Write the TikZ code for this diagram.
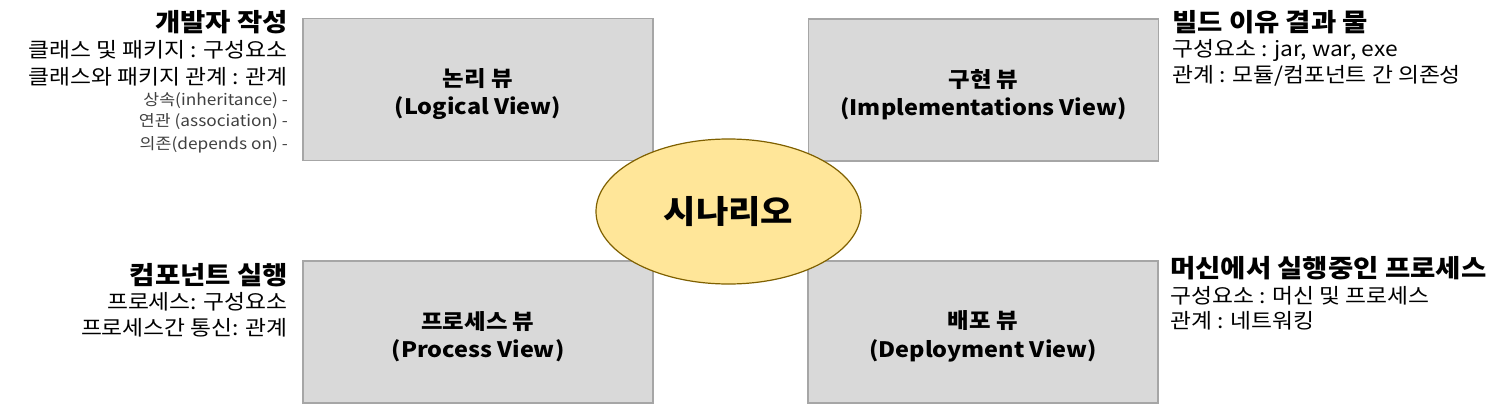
\documentclass[tikz,border=0pt]{standalone}
\usepackage{fontspec}
\setmainfont{Noto Sans CJK KR}[FakeStretch=1.1]
\usetikzlibrary{positioning, shapes.geometric}
\definecolor{boxfill}{HTML}{D9D9D9}
\definecolor{boxline}{HTML}{A6A6A6}
\definecolor{scenfill}{HTML}{FFE699}
\definecolor{scenline}{HTML}{7F6000}
\definecolor{subtext}{HTML}{404040}
\newcommand{\viewstrut}{\rule{0pt}{27pt}}

\tikzset{
	viewbox/.style={draw=boxline, fill=boxfill, line width=1.2pt, minimum width=350pt, minimum height=142pt, align=center, font=\fontsize{21.3}{28.5}\selectfont\bfseries},
	scenario/.style={ellipse, draw=scenline, fill=scenfill, line width=1.2pt, minimum width=265pt, minimum height=145pt, inner sep=0pt, font=\fontsize{32}{36}\selectfont\bfseries},
	headline/.style={inner sep=0pt, font=\fontsize{25}{28}\selectfont\bfseries},
	noteline/.style={inner sep=0pt, font=\fontsize{20.7}{24}\selectfont},
	smallline/.style={inner sep=0pt, text=subtext, font=\fontsize{15.7}{18}\selectfont}
}

\begin{document}
\begin{tikzpicture}[x=1pt, y=-1pt]
	\useasboundingbox (0,0) rectangle (1504,404);
	% the four views
	\node[viewbox] (logical) at (478,89.5) {\viewstrut 논리 뷰\\(Logical View)};
	\node[viewbox] (impl) at (983.5,90) {\viewstrut 구현 뷰\\(Implementations View)};
	\node[viewbox] (process) at (478,332) {\viewstrut 프로세스 뷰\\(Process View)};
	\node[viewbox] (deploy) at (983,332) {\viewstrut 배포 뷰\\(Deployment View)};
	
	\node[scenario] (scen) at (728.5,211.5) {시나리오};
	
	% notes on the left
	\node[headline, anchor=east] (devhead) at (288,22) {개발자 작성};
	\node[noteline, anchor=east] (devnote1) at (288,50) {클래스 및 패키지 : 구성요소};
	\node[noteline, anchor=east] (devnote2) at (288,77) {클래스와 패키지 관계 : 관계};
	\node[smallline, anchor=east] (rel1) at (288,101) {상속(inheritance) -};
	\node[smallline, anchor=east] (rel2) at (288,122) {연관 (association) -};
	\node[smallline, anchor=east] (rel3) at (288,145) {의존(depends on) -};
	
	\node[headline, anchor=east] (runhead) at (288,275) {컴포넌트 실행};
	\node[noteline, anchor=east] (runnote1) at (288,302) {프로세스: 구성요소};
	\node[noteline, anchor=east] (runnote2) at (288,328) {프로세스간 통신: 관계};
	
	% notes on the right
	\node[headline, anchor=west] (buildhead) at (1172,22) {빌드 이유 결과 물};
	\node[noteline, anchor=west] (buildnote1) at (1172,50) {구성요소 : jar, war, exe};
	\node[noteline, anchor=west] (buildnote2) at (1172,76) {관계 : 모듈/컴포넌트 간 의존성};
	
	\node[headline, anchor=west] (machead) at (1170,268) {머신에서 실행중인 프로세스};
	\node[noteline, anchor=west] (macnote1) at (1170,296) {구성요소 : 머신 및 프로세스};
	\node[noteline, anchor=west] (macnote2) at (1170,321) {관계 : 네트워킹};
\end{tikzpicture}
\end{document}
